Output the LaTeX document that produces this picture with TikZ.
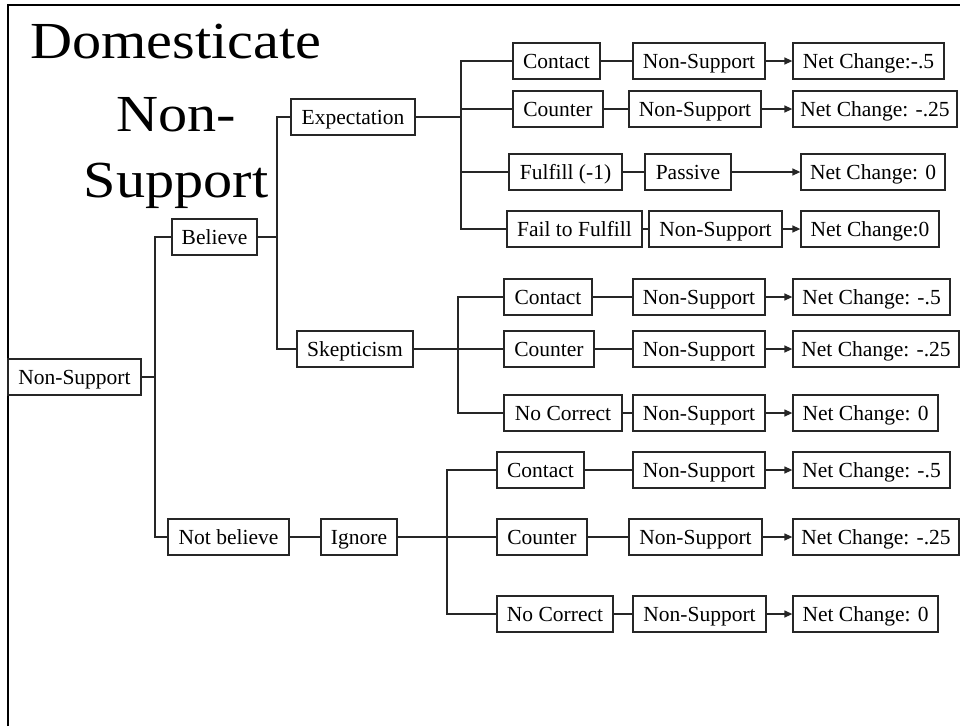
\documentclass[tikz,border=0pt]{standalone}
\usepackage{fontspec}
\setmainfont{Liberation Serif}
\usetikzlibrary{arrows.meta}

\begin{document}
\begin{tikzpicture}[x=1pt,y=-1pt,
  box/.style={draw=black!85, line width=1.3pt, fill=white, inner sep=0pt,
    minimum height=36pt, text height=14.5pt, text depth=0pt,
    font=\fontsize{21.5}{25}\selectfont},
  link/.style={draw=black!85, line width=1.3pt},
  arr/.style={link, -{Triangle[length=8pt,width=7pt]}},
  heading/.style={anchor=base, inner sep=0pt,
    font=\fontsize{52}{60}\selectfont, xscale=1.12}]

\useasboundingbox (0,0) rectangle (960,726);

% frame along the top and left edges
\draw[line width=2.5pt] (8,726) -- (8,5) -- (960,5);

% heading
\node[heading] (h1) at (176,58) {Domesticate};
\node[heading] (h2) at (176,131) {Non-};
\node[heading] (h3) at (176,197) {Support};

% first levels
\node[box, minimum width=133pt] (root) at (74.5,377) {Non-Support};
\node[box, minimum width=85pt] (bel) at (214.5,237) {Believe};
\node[box, minimum width=121pt] (nbel) at (228.5,537) {Not believe};
\node[box, minimum width=124pt] (exp) at (353,117) {Expectation};
\node[box, minimum width=116pt] (skep) at (355,349) {Skepticism};
\node[box, minimum width=76pt] (ign) at (359,537) {Ignore};

% expectation branch
\node[box, minimum width=87pt] (ea1) at (556.5,61) {Contact};
\node[box, minimum width=132pt] (ea2) at (699,61) {Non-Support};
\node[box, minimum width=151pt] (ea3) at (868.5,61) {Net Change:-.5};
\node[box, minimum width=90pt] (eb1) at (558,109) {Counter};
\node[box, minimum width=132pt] (eb2) at (695,109) {Non-Support};
\node[box, minimum width=164pt] (eb3) at (875,109) {Net Change: -.25};
\node[box, minimum width=113pt] (ec1) at (565.5,172) {Fulfill (-1)};
\node[box, minimum width=86pt] (ec2) at (688,172) {Passive};
\node[box, minimum width=144pt] (ec3) at (873,172) {Net Change: 0};
\node[box, minimum width=135pt] (ed1) at (574.5,229) {Fail to Fulfill};
\node[box, minimum width=133pt] (ed2) at (715.5,229) {Non-Support};
\node[box, minimum width=138pt] (ed3) at (870,229) {Net Change:0};

% skepticism branch
\node[box, minimum width=88pt] (sa1) at (548,297) {Contact};
\node[box, minimum width=132pt] (sa2) at (699,297) {Non-Support};
\node[box, minimum width=157pt] (sa3) at (871.5,297) {Net Change: -.5};
\node[box, minimum width=90pt] (sb1) at (549,349) {Counter};
\node[box, minimum width=132pt] (sb2) at (699,349) {Non-Support};
\node[box, minimum width=166pt] (sb3) at (876,349) {Net Change: -.25};
\node[box, minimum width=118pt] (sc1) at (563,413) {No Correct};
\node[box, minimum width=132pt] (sc2) at (699,413) {Non-Support};
\node[box, minimum width=145pt] (sc3) at (865.5,413) {Net Change: 0};

% ignore branch
\node[box, minimum width=87pt] (ia1) at (540.5,470) {Contact};
\node[box, minimum width=132pt] (ia2) at (699,470) {Non-Support};
\node[box, minimum width=157pt] (ia3) at (871.5,470) {Net Change: -.5};
\node[box, minimum width=90pt] (ib1) at (542,537) {Counter};
\node[box, minimum width=133pt] (ib2) at (695.5,537) {Non-Support};
\node[box, minimum width=166pt] (ib3) at (876,537) {Net Change: -.25};
\node[box, minimum width=116pt] (ic1) at (555,614) {No Correct};
\node[box, minimum width=133pt] (ic2) at (699.5,614) {Non-Support};
\node[box, minimum width=145pt] (ic3) at (865.5,614) {Net Change: 0};

% junction points of the tree
\coordinate (j0) at (155,377);
\coordinate (j1) at (277,237);
\coordinate (j2) at (461,117);
\coordinate (j3) at (458,349);
\coordinate (j4) at (447,537);

% tree connectors
\draw[link] (root) -- (j0) (j0) |- (bel) (j0) |- (nbel);
\draw[link] (bel) -- (j1) (j1) |- (exp) (j1) |- (skep);
\draw[link] (nbel) -- (ign);
\draw[link] (exp) -- (j2) (j2) |- (ea1) (j2) |- (eb1) (j2) |- (ec1) (j2) |- (ed1);
\draw[link] (skep) -- (j3) (j3) |- (sa1) (j3) |- (sb1) (j3) |- (sc1);
\draw[link] (ign) -- (j4) (j4) |- (ia1) (j4) |- (ib1) (j4) |- (ic1);

% rows
\foreach \r in {ea,eb,ec,ed,sa,sb,sc,ia,ib,ic}{
  \draw[link] (\r1) -- (\r2);
  \draw[arr] (\r2) -- (\r3);
}

\end{tikzpicture}
\end{document}
